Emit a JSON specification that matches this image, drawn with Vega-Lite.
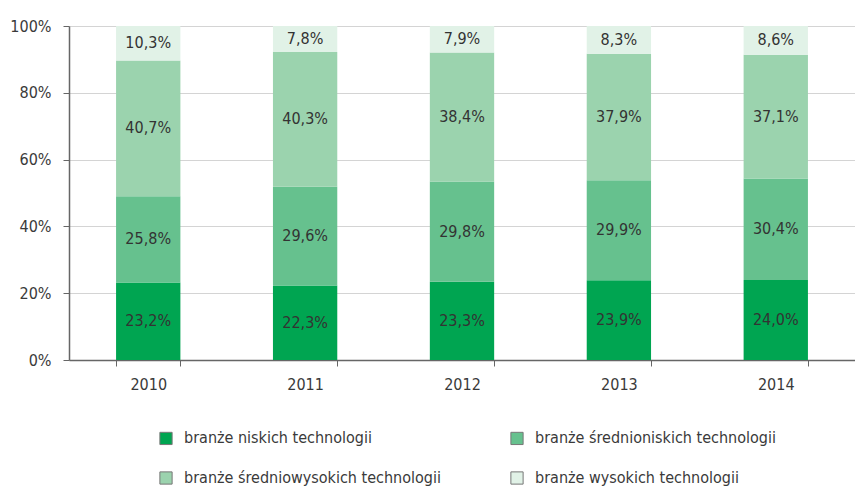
{
  "$schema": "https://vega.github.io/schema/vega-lite/v6.json",
  "width": 786,
  "height": 334,
  "autosize": {"type": "none"},
  "padding": {"left": 69, "top": 26, "right": 0, "bottom": 126},
  "background": "white",
  "data": {
    "values": [
      {"year": "2010", "cat": "branże niskich technologii", "value": 23.2},
      {"year": "2010", "cat": "branże średnioniskich technologii", "value": 25.8},
      {"year": "2010", "cat": "branże średniowysokich technologii", "value": 40.7},
      {"year": "2010", "cat": "branże wysokich technologii", "value": 10.3},
      {"year": "2011", "cat": "branże niskich technologii", "value": 22.3},
      {"year": "2011", "cat": "branże średnioniskich technologii", "value": 29.6},
      {"year": "2011", "cat": "branże średniowysokich technologii", "value": 40.3},
      {"year": "2011", "cat": "branże wysokich technologii", "value": 7.8},
      {"year": "2012", "cat": "branże niskich technologii", "value": 23.3},
      {"year": "2012", "cat": "branże średnioniskich technologii", "value": 29.8},
      {"year": "2012", "cat": "branże średniowysokich technologii", "value": 38.4},
      {"year": "2012", "cat": "branże wysokich technologii", "value": 7.9},
      {"year": "2013", "cat": "branże niskich technologii", "value": 23.9},
      {"year": "2013", "cat": "branże średnioniskich technologii", "value": 29.9},
      {"year": "2013", "cat": "branże średniowysokich technologii", "value": 37.9},
      {"year": "2013", "cat": "branże wysokich technologii", "value": 8.3},
      {"year": "2014", "cat": "branże niskich technologii", "value": 24.0},
      {"year": "2014", "cat": "branże średnioniskich technologii", "value": 30.4},
      {"year": "2014", "cat": "branże średniowysokich technologii", "value": 37.1},
      {"year": "2014", "cat": "branże wysokich technologii", "value": 8.6}
    ]
  },
  "transform": [
    {"calculate": "indexof(['branże niskich technologii','branże średnioniskich technologii','branże średniowysokich technologii','branże wysokich technologii'], datum.cat)", "as": "k"},
    {"stack": "value", "groupby": ["year"], "sort": [{"field": "k", "order": "ascending"}], "offset": "normalize", "as": ["y0", "y1"]},
    {"calculate": "(datum.y0 + datum.y1) / 2", "as": "mid"},
    {"calculate": "replace(format(datum.value, '.1f'), '.', ',') + '%'", "as": "label"}
  ],
  "encoding": {
    "x": {
      "field": "year",
      "type": "nominal",
      "title": null,
      "scale": {"paddingInner": 0.59, "paddingOuter": 0.3},
      "axis": {
        "labelAngle": 0,
        "tickBand": "extent",
        "domainColor": "#666666",
        "domainWidth": 1.5,
        "tickColor": "#666666",
        "tickSize": 6,
        "labelPadding": 10,
        "labelFontSize": 16,
        "labelColor": "#3a3a3a",
        "grid": false
      }
    }
  },
  "layer": [
    {
      "mark": {"type": "bar"},
      "encoding": {
        "y": {
          "field": "y0",
          "type": "quantitative",
          "title": null,
          "scale": {"domain": [0, 1], "nice": false},
          "axis": {
            "format": ".0%",
            "values": [0, 0.2, 0.4, 0.6, 0.8, 1],
            "domainColor": "#666666",
            "domainWidth": 1.5,
            "tickColor": "#666666",
            "tickSize": 6,
            "labelPadding": 12,
            "labelFontSize": 16,
            "labelColor": "#3a3a3a",
            "gridColor": "#d4d4d4",
            "gridWidth": 1.2
          }
        },
        "y2": {"field": "y1"},
        "color": {
          "field": "cat",
          "type": "nominal",
          "scale": {
            "domain": ["branże niskich technologii", "branże średnioniskich technologii", "branże średniowysokich technologii", "branże wysokich technologii"],
            "range": ["#00a551", "#66c18e", "#9bd3ae", "#e1f2e7"]
          },
          "legend": {
            "title": null,
            "orient": "none",
            "direction": "horizontal",
            "legendX": 89,
            "legendY": 404,
            "columns": 2,
            "columnPadding": 67,
            "rowPadding": 22,
            "symbolType": "square",
            "symbolSize": 150,
            "symbolStrokeColor": "#777777",
            "symbolStrokeWidth": 1,
            "labelFontSize": 16,
            "labelColor": "#3a3a3a",
            "labelOffset": 10,
            "labelLimit": 400
          }
        }
      }
    },
    {
      "mark": {"type": "text", "fontSize": 16, "color": "#333333", "baseline": "middle"},
      "encoding": {
        "y": {"field": "mid", "type": "quantitative"},
        "text": {"field": "label", "type": "nominal"}
      }
    }
  ],
  "config": {
    "font": "DejaVu Sans Condensed, Roboto, sans-serif",
    "view": {"stroke": null},
    "axis": {"labelFont": "DejaVu Sans Condensed, Roboto, sans-serif"},
    "legend": {"labelFont": "DejaVu Sans Condensed, Roboto, sans-serif"},
    "text": {"font": "DejaVu Sans Condensed, Roboto, sans-serif"}
  }
}
